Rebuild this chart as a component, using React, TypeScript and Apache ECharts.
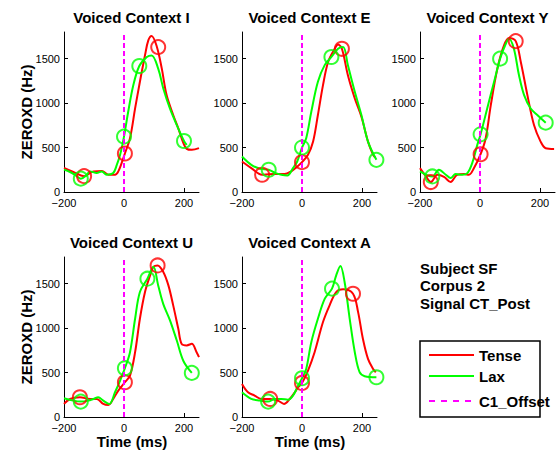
import React, { useEffect, useRef } from "react";
import * as echarts from "echarts";

// ---------------- data ----------------
const contexts = ["I", "E", "Y", "U", "A"];
const xTicks = [-200, 0, 200];
const yTicks = [0, 500, 1000, 1500];

// Context I
const tenseT_I = [-200, -169, -133, -102, -74, -52, -30, -19, -8, 3, 20, 37, 53, 70, 81, 92, 109, 126, 142, 164, 181, 198, 209, 226, 250];
const tenseV_I = [270, 225, 178, 232, 237, 195, 195, 232, 325, 433, 605, 940, 1240, 1538, 1705, 1755, 1640, 1388, 1090, 866, 716, 549, 485, 474, 493];
const laxT_I = [-200, -180, -160, -144, -125, -113, -91, -74, -58, -36, -24, -13, 0, 14, 31, 51, 76, 92, 114, 131, 153, 176, 200, 209];
const laxV_I = [252, 225, 185, 150, 190, 232, 213, 232, 195, 213, 305, 418, 623, 903, 1200, 1417, 1518, 1537, 1388, 1165, 940, 753, 574, 530];
const tenseMarkT_I = [-133, 3, 114];
const tenseMarkV_I = [178, 433, 1630];
const laxMarkT_I = [-144, 0, 51, 200];
const laxMarkV_I = [150, 623, 1417, 574];

// Context E
const tenseT_E = [-200, -169, -133, -111, -91, -58, -36, -19, 0, 20, 37, 53, 70, 87, 109, 120, 133, 153, 176, 198, 220, 237, 244];
const tenseV_E = [343, 269, 194, 200, 202, 202, 232, 276, 336, 418, 567, 866, 1202, 1463, 1611, 1660, 1611, 1313, 1052, 847, 567, 418, 388];
const laxT_E = [-200, -169, -140, -111, -90, -69, -49, -30, -16, 0, 14, 31, 53, 76, 98, 120, 137, 153, 176, 198, 220, 248];
const laxV_E = [399, 305, 262, 250, 215, 194, 186, 269, 343, 500, 605, 903, 1240, 1430, 1519, 1611, 1630, 1425, 1127, 866, 567, 362];
const tenseMarkT_E = [-133, 0, 133];
const tenseMarkV_E = [194, 336, 1611];
const laxMarkT_E = [-111, 0, 98, 248];
const laxMarkV_E = [250, 500, 1519, 362];

// Context Y
const tenseT_Y = [-200, -180, -164, -142, -120, -98, -76, -53, -37, -20, 2, 19, 36, 58, 80, 97, 119, 136, 158, 180, 202, 219, 247];
const tenseV_Y = [269, 175, 112, 194, 170, 112, 194, 202, 194, 269, 425, 605, 977, 1388, 1649, 1732, 1697, 1463, 1090, 753, 567, 493, 485];
const laxT_Y = [-200, -159, -137, -114, -98, -81, -59, -42, -26, -9, 2, 24, 47, 67, 86, 97, 113, 130, 147, 169, 191, 219];
const laxV_Y = [232, 175, 250, 194, 157, 202, 194, 213, 325, 530, 649, 940, 1240, 1500, 1668, 1724, 1611, 1313, 1090, 940, 866, 780];
const tenseMarkT_Y = [-164, 2, 119];
const tenseMarkV_Y = [112, 425, 1697];
const laxMarkT_Y = [-159, 2, 67, 219];
const laxMarkV_Y = [175, 649, 1500, 780];

// Context U
const tenseT_U = [-200, -180, -147, -113, -91, -69, -52, -36, -19, 3, 20, 37, 53, 70, 87, 98, 112, 131, 148, 164, 181, 192, 209, 226, 242, 250];
const tenseV_U = [147, 203, 222, 203, 203, 147, 135, 203, 297, 391, 466, 729, 1105, 1406, 1594, 1690, 1705, 1632, 1481, 1256, 992, 823, 805, 823, 729, 673];
const laxT_U = [-200, -169, -144, -119, -102, -86, -69, -49, -30, -13, 3, 20, 37, 53, 78, 98, 114, 131, 153, 176, 198, 226];
const laxV_U = [211, 184, 173, 184, 203, 222, 184, 147, 278, 410, 549, 729, 1105, 1406, 1556, 1690, 1480, 1270, 1090, 860, 630, 496];
const tenseMarkT_U = [-147, 3, 112];
const tenseMarkV_U = [222, 391, 1705];
const laxMarkT_U = [-144, 3, 78, 226];
const laxMarkV_U = [173, 549, 1556, 496];

// Context A
const tenseT_A = [-200, -180, -158, -136, -106, -80, -60, -41, -24, -13, 0, 20, 42, 70, 92, 114, 137, 170, 187, 203, 220, 237, 246];
const tenseV_A = [372, 278, 241, 203, 203, 184, 147, 203, 278, 335, 383, 523, 729, 1068, 1256, 1406, 1436, 1387, 1180, 880, 654, 541, 504];
const laxT_A = [-200, -169, -140, -113, -91, -69, -47, -30, -13, 0, 14, 31, 53, 76, 100, 114, 128, 142, 159, 176, 192, 209, 248];
const laxV_A = [278, 203, 185, 173, 203, 203, 195, 241, 353, 436, 541, 842, 1105, 1331, 1444, 1594, 1699, 1519, 1105, 729, 504, 459, 447];
const tenseMarkT_A = [-106, 0, 170];
const tenseMarkV_A = [203, 383, 1387];
const laxMarkT_A = [-113, 0, 100, 248];
const laxMarkV_A = [173, 436, 1444, 447];

const offsetTime = [0, 0];
const offsetRange = [0, 1800];

const infoLines = ["Subject SF", "Corpus 2", "Signal CT_Post"];
const legendNames = ["Tense", "Lax", "C1_Offset"];

const panels = [
  { tT: tenseT_I, tV: tenseV_I, lT: laxT_I, lV: laxV_I, tmT: tenseMarkT_I, tmV: tenseMarkV_I, lmT: laxMarkT_I, lmV: laxMarkV_I },
  { tT: tenseT_E, tV: tenseV_E, lT: laxT_E, lV: laxV_E, tmT: tenseMarkT_E, tmV: tenseMarkV_E, lmT: laxMarkT_E, lmV: laxMarkV_E },
  { tT: tenseT_Y, tV: tenseV_Y, lT: laxT_Y, lV: laxV_Y, tmT: tenseMarkT_Y, tmV: tenseMarkV_Y, lmT: laxMarkT_Y, lmV: laxMarkV_Y },
  { tT: tenseT_U, tV: tenseV_U, lT: laxT_U, lV: laxV_U, tmT: tenseMarkT_U, tmV: tenseMarkV_U, lmT: laxMarkT_U, lmV: laxMarkV_U },
  { tT: tenseT_A, tV: tenseV_A, lT: laxT_A, lV: laxV_A, tmT: tenseMarkT_A, tmV: tenseMarkV_A, lmT: laxMarkT_A, lmV: laxMarkV_A },
];

// ---------------- layout / style ----------------
const RED = "#ff0000";
const GREEN = "#00ff00";
const MAGENTA = "#ff00ff";
const FONT = "'Liberation Sans', Arial, Helvetica, sans-serif";
const colLeft = [64, 242, 420];
const rowTop = [32, 257];
const GW = 135;
const GH = 160;

const zip = (a: number[], b: number[]) => a.map((v, i) => [v, b[i]]);
const fmtX = (v: number) => (v < 0 ? "\u2212" + Math.abs(v) : String(v));
const fmtY = (v: number) => String(v);

export default function App() {
  const ref = useRef<HTMLDivElement>(null);
  useEffect(() => {
    if (!ref.current) return;
    const chart = echarts.init(ref.current, undefined, { renderer: "svg" });

    const grids: any[] = [];
    const xAxes: any[] = [];
    const yAxes: any[] = [];
    const series: any[] = [];
    const graphics: any[] = [];

    panels.forEach((p, i) => {
      const col = i % 3;
      const row = Math.floor(i / 3);
      const left = colLeft[col];
      const top = rowTop[row];
      grids.push({ left, top, width: GW, height: GH, containLabel: false });
      xAxes.push({
        gridIndex: i,
        type: "value",
        min: -200,
        max: 250,
        splitLine: { show: false },
        axisLine: { show: true, onZero: false, lineStyle: { color: "#000", width: 1 } },
        axisTick: { show: true, inside: true, length: 4, customValues: xTicks, lineStyle: { color: "#000" } },
        axisLabel: { customValues: xTicks, formatter: fmtX, fontSize: 11, color: "#000", fontFamily: FONT, margin: 5 },
      });
      yAxes.push({
        gridIndex: i,
        type: "value",
        min: 0,
        max: 1800,
        splitLine: { show: false },
        axisLine: { show: true, onZero: false, lineStyle: { color: "#000", width: 1 } },
        axisTick: { show: true, inside: true, length: 4, customValues: yTicks, lineStyle: { color: "#000" } },
        axisLabel: { customValues: yTicks, formatter: fmtY, fontSize: 11, color: "#000", fontFamily: FONT, margin: 4 },
      });
      const common = { xAxisIndex: i, yAxisIndex: i, silent: true };
      series.push({
        ...common,
        type: "line",
        data: zip(p.tT, p.tV),
        smooth: 0.35,
        symbol: "none",
        lineStyle: { color: RED, width: 2 },
        z: 2,
      });
      series.push({
        ...common,
        type: "line",
        data: zip(p.lT, p.lV),
        smooth: 0.35,
        symbol: "none",
        lineStyle: { color: GREEN, width: 2 },
        z: 3,
      });
      series.push({
        ...common,
        type: "scatter",
        data: zip(p.tmT, p.tmV),
        symbol: "circle",
        symbolSize: 14,
        itemStyle: { color: "none", borderColor: RED, borderWidth: 2 },
        clip: false,
        z: 4,
      });
      series.push({
        ...common,
        type: "scatter",
        data: zip(p.lmT, p.lmV),
        symbol: "circle",
        symbolSize: 14,
        itemStyle: { color: "none", borderColor: GREEN, borderWidth: 2 },
        clip: false,
        z: 5,
      });
      series.push({
        ...common,
        type: "line",
        data: zip(offsetTime, offsetRange),
        symbol: "none",
        lineStyle: { color: MAGENTA, width: 2, type: [5, 3] },
        z: 6,
      });

      // titles
      graphics.push({
        type: "text",
        x: left + GW / 2,
        y: top - 14.5,
        style: {
          text: "Voiced Context " + contexts[i],
          font: `bold 15px ${FONT}`,
          fill: "#000",
          textAlign: "center",
          textVerticalAlign: "middle",
        },
      });
      if (col === 0) {
        graphics.push({
          type: "text",
          x: 26,
          y: top + 80,
          rotation: Math.PI / 2,
          style: {
            text: "ZEROXD (Hz)",
            font: `bold 15px ${FONT}`,
            fill: "#000",
            textAlign: "center",
            textVerticalAlign: "middle",
          },
        });
      }
      if (row === 1) {
        graphics.push({
          type: "text",
          x: left + 68,
          y: 441,
          style: {
            text: "Time (ms)",
            font: `bold 15px ${FONT}`,
            fill: "#000",
            textAlign: "center",
            textVerticalAlign: "middle",
          },
        });
      }
    });

    // info text
    infoLines.forEach((t, k) => {
      graphics.push({
        type: "text",
        x: 420,
        y: 268 + k * 17.5,
        style: { text: t, font: `bold 15px ${FONT}`, fill: "#000", textAlign: "left", textVerticalAlign: "middle" },
      });
    });

    // legend
    graphics.push({
      type: "rect",
      shape: { x: 420, y: 341, width: 120, height: 76 },
      style: { fill: "#fff", stroke: "#000", lineWidth: 1.5 },
      z: 10,
    });
    const legColors = [RED, GREEN, MAGENTA];
    const legY = [355, 376, 401];
    legendNames.forEach((n, k) => {
      graphics.push({
        type: "line",
        shape: { x1: 429, y1: legY[k], x2: 474, y2: legY[k] },
        style: { stroke: legColors[k], lineWidth: 2, lineDash: k === 2 ? [6, 6] : null },
        z: 11,
      });
      graphics.push({
        type: "text",
        x: 479,
        y: legY[k],
        style: { text: n, font: `bold 15px ${FONT}`, fill: "#000", textAlign: "left", textVerticalAlign: "middle" },
        z: 11,
      });
    });

    chart.setOption({
      animation: false,
      backgroundColor: "#fff",
      grid: grids,
      xAxis: xAxes,
      yAxis: yAxes,
      series,
      graphic: graphics,
    });
    return () => chart.dispose();
  }, []);

  return <div ref={ref} style={{ position: "absolute", left: 0, top: 0, width: 557, height: 452 }} />;
}
